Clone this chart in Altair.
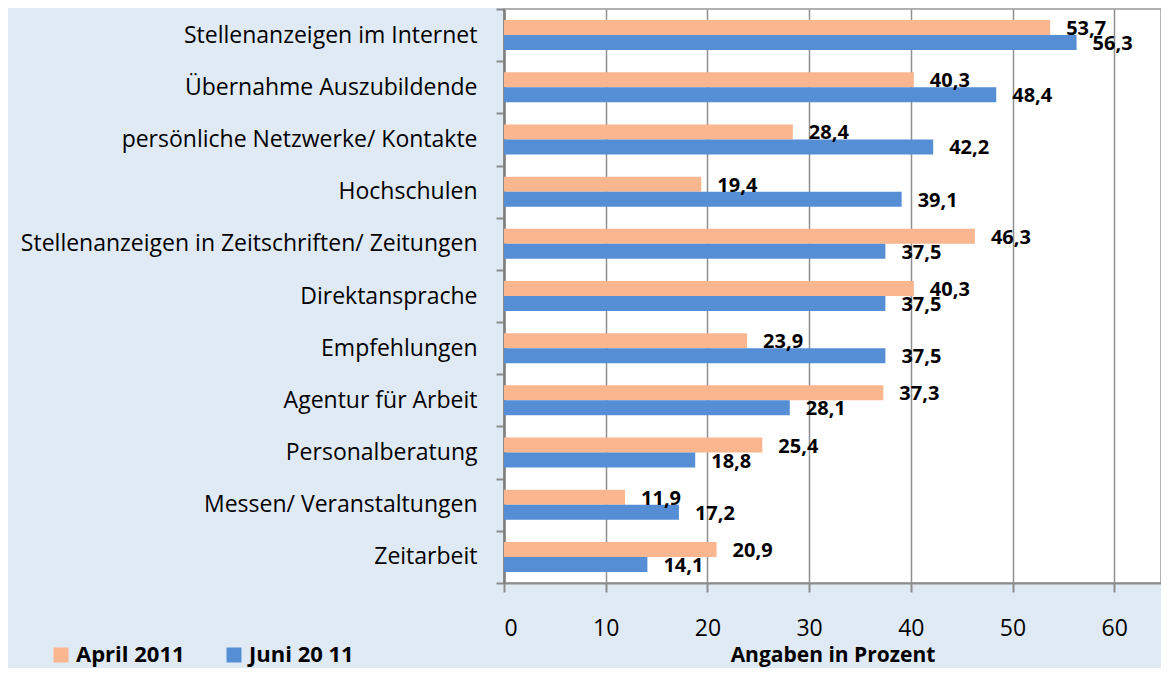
import altair as alt
import pandas as pd

categories = [
    "Stellenanzeigen im Internet",
    "Übernahme Auszubildende",
    "persönliche Netzwerke/ Kontakte",
    "Hochschulen",
    "Stellenanzeigen in Zeitschriften/ Zeitungen\u00a0",
    "Direktansprache",
    "Empfehlungen",
    "Agentur für Arbeit",
    "Personalberatung\u00a0",
    "Messen/ Veranstaltungen\u00a0",
    "Zeitarbeit",
]
series = ["April 2011", "Juni 20 11"]
april_2011 = [53.7, 40.3, 28.4, 19.4, 46.3, 40.3, 23.9, 37.3, 25.4, 11.9, 20.9]
juni_2011 = [56.3, 48.4, 42.2, 39.1, 37.5, 37.5, 37.5, 28.1, 18.8, 17.2, 14.1]
x_ticks = [0, 10, 20, 30, 40, 50, 60]
colors = ["#FAB68F", "#558ED5"]

rows = []
for c, a, j in zip(categories, april_2011, juni_2011):
    rows.append({"cat": c, "series": series[0], "value": a})
    rows.append({"cat": c, "series": series[1], "value": j})
df = pd.DataFrame(rows)
df["label"] = df["value"].map(lambda v: f"{v:.1f}".replace(".", ","))

FONT = "Open Sans"

base = alt.Chart(df).encode(
    y=alt.Y(
        "cat:N",
        sort=categories,
        scale=alt.Scale(paddingInner=0, paddingOuter=0),
        axis=alt.Axis(
            title=None,
            tickBand="extent",
            tickSize=8,
            tickColor="#8c8c8c",
            tickWidth=2,
            domainColor="#7f7f7f",
            domainWidth=2.5,
            labelFont=FONT,
            labelFontSize=23,
            labelColor="#000000",
            labelPadding=19,
            labelLimit=0,
            grid=False,
        ),
    ),
    yOffset=alt.YOffset(
        "series:N",
        sort=series,
        scale=alt.Scale(paddingOuter=0.739, paddingInner=0),
    ),
    x=alt.X(
        "value:Q",
        scale=alt.Scale(domain=[0, 64.6], nice=False),
        axis=alt.Axis(
            values=x_ticks,
            title="Angaben in Prozent",
            titleFont=FONT,
            titleFontSize=21,
            titleFontWeight="bold",
            titleColor="#000000",
            titleBaseline="alphabetic",
            titleY=78,
            tickSize=9,
            tickColor="#8c8c8c",
            tickWidth=2,
            domainColor="#8c8c8c",
            domainWidth=2,
            labelFont=FONT,
            labelFontSize=23,
            labelColor="#000000",
            labelBaseline="alphabetic",
            labelPadding=43,
            grid=True,
            gridColor="#8f8f8f",
            gridWidth=1.5,
        ),
    ),
)

bars = base.mark_bar().encode(
    color=alt.Color(
        "series:N",
        sort=series,
        scale=alt.Scale(domain=series, range=colors),
        legend=alt.Legend(
            title=None,
            orient="none",
            legendX=-454,
            legendY=635,
            direction="horizontal",
            symbolType="square",
            symbolSize=225,
            symbolStrokeWidth=0,
            labelFont=FONT,
            labelFontSize=22,
            labelFontWeight="bold",
            labelColor="#000000",
            labelOffset=4,
            columnPadding=38,
            padding=0,
            labelLimit=0,
        ),
    )
)

text = base.mark_text(
    align="left",
    baseline="middle",
    dx=16,
    dy=1.5,
    font=FONT,
    fontSize=20,
    fontWeight="bold",
    color="#000000",
).encode(text="label:N")

chart = (
    alt.layer(bars, text)
    .properties(
        width=657,
        height=574,
        autosize=alt.AutoSizeParams(type="none"),
        padding={"left": 496, "top": 1, "right": 0, "bottom": 85},
    )
    .configure(background="#E0EAF5")
    .configure_view(fill="#ffffff", stroke="#9a9a9a", strokeWidth=1.5)
)

chart.save("out.html", embed_options={"renderer": "svg", "actions": False})
